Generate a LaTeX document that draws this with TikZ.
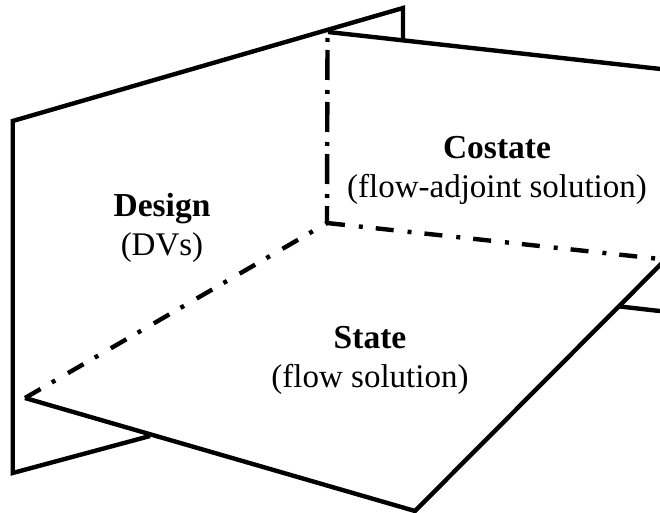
\documentclass[tikz,border=0pt]{standalone}
\usepackage{fontspec}
\setmainfont{Liberation Serif}
\begin{document}
\begin{tikzpicture}[x=1pt,y=-1pt,
  edge/.style={line width=4.4pt, line join=miter, line cap=butt},
  vline/.style={edge, dash pattern=on 4pt off 8pt on 30pt off 10pt},
  rline/.style={edge, dash pattern=on 18pt off 14pt on 4pt off 13pt},
  lline/.style={edge, dash pattern=on 18pt off 13pt on 4pt off 14.6pt},
  title/.style={font=\fontsize{33.5}{39}\selectfont\bfseries, anchor=base, inner sep=0pt},
  sub/.style={font=\fontsize{33}{39}\selectfont, anchor=base, inner sep=0pt}]
  \useasboundingbox (0,0) rectangle (660,513);
  \clip (0,0) rectangle (660,513);

  % design plane (vertical, left)
  \coordinate (D1) at (12.7,473);
  \coordinate (D2) at (12.7,121);
  \coordinate (D3) at (403,8);
  \coordinate (D4) at (403,40.5);
  \coordinate (Db) at (150,436);
  % costate plane (vertical, back)
  \coordinate (C1) at (328,32);
  \coordinate (C2) at (700,73.4);
  \coordinate (Cl1) at (620,306.5);
  \coordinate (Cl2) at (700,315.6);
  % state plane (horizontal) and the common corner
  \coordinate (O) at (327,223);
  \coordinate (V1) at (327.5,38);
  \coordinate (L) at (25,398);
  \coordinate (F) at (415,511);
  \coordinate (R) at (665.4,259.6);

  % visible plane edges
  \draw[edge] (Db) -- (D1) -- (D2) -- (D3) -- (D4);
  \draw[edge] (C1) -- (C2);
  \draw[edge] (Cl1) -- (Cl2);
  \draw[edge] (L) -- (F) -- (R);

  % intersection lines of the planes
  \draw[vline] (V1) -- (O);
  \draw[rline] (O) -- (R);
  \draw[lline] (L) -- (O);

  % labels
  \node[title] (design) at (162,216) {Design};
  \node[sub] (dvs) at (162,255) {(DVs)};
  \node[title] (costate) at (497,158) {Costate};
  \node[sub] (adj) at (497,197) {(flow-adjoint solution)};
  \node[title] (state) at (370,348) {State};
  \node[sub] (flow) at (370,387) {(flow solution)};
\end{tikzpicture}
\end{document}
